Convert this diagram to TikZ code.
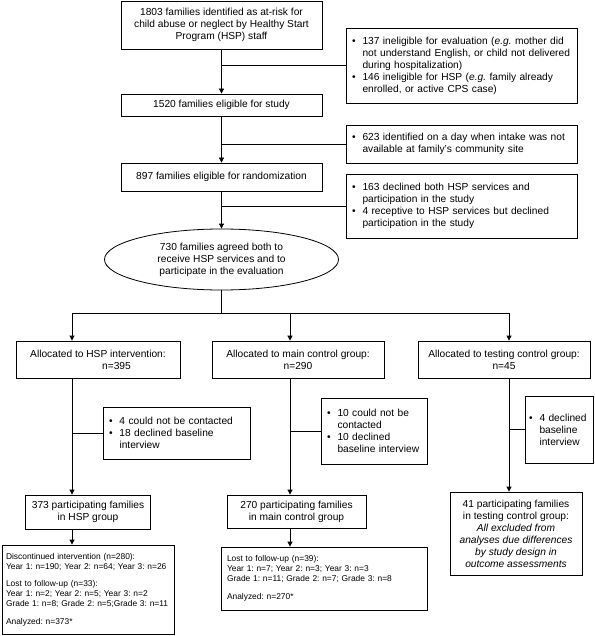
\documentclass[tikz,border=0pt]{standalone}
\usepackage{fontspec}
\setmainfont{Liberation Sans}
\usepackage{tikz}
\usetikzlibrary{positioning,shapes.geometric,arrows.meta}

\newcommand{\bul}{\makebox[10.5pt][l]{\textbullet}}
\newcommand{\ind}{\hspace*{10.5pt}}
\frenchspacing

\begin{document}
\begin{tikzpicture}[x=1pt,y=-1pt,
    box/.style={rectangle,draw,line width=0.8pt,inner sep=0pt,align=center,
        font=\fontsize{10.2}{12}\selectfont},
    listbox/.style={box,align=left,inner xsep=6pt},
    smallbox/.style={box,align=left,inner xsep=4pt,font=\fontsize{8.4}{10}\selectfont},
    oval/.style={ellipse,draw,line width=0.8pt,inner sep=0pt,align=center,
        font=\fontsize{10.2}{12}\selectfont},
    arrow/.style={-{Triangle[length=5pt,width=5pt]},line width=0.8pt},
    link/.style={line width=0.8pt}]
    \useasboundingbox (0,0) rectangle (594,636);

    % screening
    \node[box,minimum width=201pt,minimum height=48pt] (identified) at (221.5,25)
        {1803 families identified as at-risk for\\child abuse or neglect by Healthy Start\\Program (HSP) staff};
    \node[listbox,text width=219pt,minimum height=75pt] (ineligible) at (461.5,65.5)
        {\bul 137 ineligible for evaluation (\textit{e.g.} mother did\\
         \ind not understand English, or child not delivered\\
         \ind during hospitalization)\\
         \bul 146 ineligible for HSP (\textit{e.g.} family already\\
         \ind enrolled, or active CPS case)};
    \node[box,minimum width=201pt,minimum height=22pt] (eligible) at (221.5,105)
        {1520 families eligible for study};
    \node[listbox,text width=219pt,minimum height=38pt] (intake) at (461.5,144)
        {\bul 623 identified on a day when intake was not\\
         \ind available at family's community site};
    \node[box,minimum width=201pt,minimum height=28pt] (randomize) at (221.5,177)
        {897 families eligible for randomization};
    \node[listbox,text width=219pt,minimum height=64pt] (refused) at (461.5,206)
        {\bul 163 declined both HSP services and\\
         \ind participation in the study\\
         \bul 4 receptive to HSP services but declined\\
         \ind participation in the study};
    \node[oval,minimum width=234pt,minimum height=61pt] (agreed) at (221.5,259.5)
        {730 families agreed both to\\receive HSP services and to\\participate in the evaluation};

    % allocation
    \coordinate (split) at (221.5,313);
    \coordinate (armHSP) at (72,313);
    \coordinate (armMain) at (290,313);
    \coordinate (armTest) at (509,313);

    \node[box,minimum width=164pt,minimum height=37pt] (allocHSP) at (98,359.5)
        {Allocated to HSP intervention:\\\hspace*{37pt}n=395};
    \node[box,minimum width=172pt,minimum height=37pt] (allocMain) at (298,359.5)
        {Allocated to main control group:\\n=290};
    \node[box,minimum width=172pt,minimum height=37pt] (allocTest) at (504,359.5)
        {Allocated to testing control group:\\n=45};

    \node[listbox,text width=135pt,minimum height=52pt] (lossHSP) at (176.5,433)
        {\bul 4 could not be contacted\\
         \bul 18 declined baseline\\
         \ind interview};
    \node[listbox,text width=94pt,minimum height=66pt] (lossMain) at (374,431)
        {\bul 10 could not be\\
         \ind contacted\\
         \bul 10 declined\\
         \ind baseline interview};
    \node[listbox,inner xsep=4pt,text width=60pt,minimum height=67pt] (lossTest) at (559,429.5)
        {\bul 4 declined\\
         \ind baseline\\
         \ind interview};

    % participants and outcome
    \node[box,minimum width=125pt,minimum height=34pt] (partHSP) at (88,512)
        {373 participating families\\in HSP group};
    \node[box,minimum width=139pt,minimum height=33pt] (partMain) at (296.5,511.5)
        {270 participating families\\in main control group};
    \node[box,minimum width=132pt,minimum height=83pt] (partTest) at (516,533.5)
        {41 participating families\\in testing control group:\\
         \textit{All excluded from}\\\textit{analyses due differences}\\
         \textit{by study design in}\\\textit{outcome assessments}};

    \node[smallbox,text width=164pt,minimum height=89pt] (outHSP) at (88,589.5)
        {Discontinued intervention (n=280):\\
         Year 1: n=190; Year 2: n=64; Year 3: n=26\\[7.5pt]
         Lost to follow-up (n=33):\\
         Year 1: n=2; Year 2: n=5; Year 3: n=2\\
         Grade 1: n=8; Grade 2: n=5;Grade 3: n=11\\[7.5pt]
         Analyzed: n=373*};
    \node[smallbox,inner xsep=6pt,text width=194pt,minimum height=63pt] (outMain) at (324,578.5)
        {Lost to follow-up (n=39):\\
         Year 1: n=7; Year 2: n=3; Year 3: n=3\\
         Grade 1: n=11; Grade 2: n=7; Grade 3: n=8\\[7.5pt]
         Analyzed: n=270*};

    % connectors
    \draw[arrow] (identified) -- (eligible);
    \draw[link] (ineligible.west) -- (ineligible.west -| identified.south);
    \draw[arrow] (eligible) -- (randomize);
    \draw[link] (intake.west) -- (intake.west -| eligible.south);
    \draw[arrow] (randomize) -- (agreed);
    \draw[link] (refused.west) -- (refused.west -| randomize.south);
    \draw[link] (agreed) -- (split);
    \draw[link] (armHSP) -- (armTest);
    \draw[arrow] (armHSP) -- (armHSP |- allocHSP.north);
    \draw[arrow] (armMain) -- (armMain |- allocMain.north);
    \draw[arrow] (armTest) -- (armTest |- allocTest.north);

    \draw[arrow] (armHSP |- allocHSP.south) -- (armHSP |- partHSP.north);
    \draw[link] (lossHSP.west) -- (lossHSP.west -| armHSP);
    \draw[arrow] (armMain |- allocMain.south) -- (armMain |- partMain.north);
    \draw[link] (lossMain.west) -- (lossMain.west -| armMain);
    \draw[arrow] (armTest |- allocTest.south) -- (armTest |- partTest.north);
    \draw[link] (lossTest.west) -- (lossTest.west -| armTest);

    \draw[arrow] (armHSP |- partHSP.south) -- (armHSP |- outHSP.north);
    \draw[arrow] (armMain |- partMain.south) -- (armMain |- outMain.north);
\end{tikzpicture}
\end{document}
